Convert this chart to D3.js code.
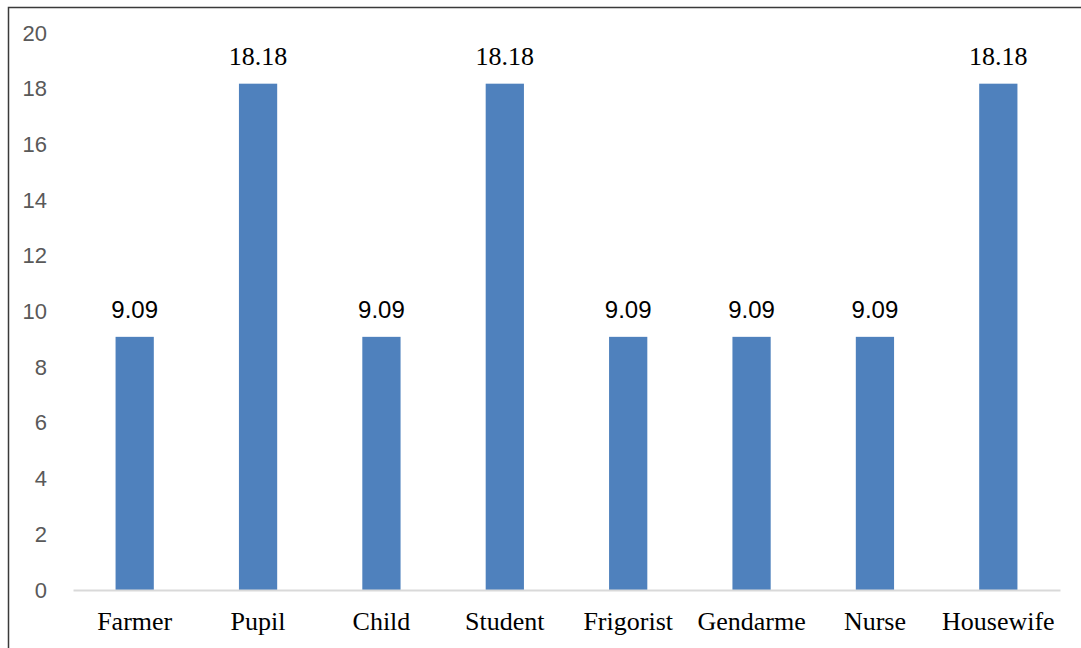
<!DOCTYPE html>
<meta charset='utf-8'>
<style>
	body { margin: 0; background: #fff; }
	#container { width: 1081px; height: 648px; }
</style>
<body>
	<div id='container'></div>
<script src='https://d3js.org/d3.v7.min.js'></script>
<script>
	const categories = ['Farmer', 'Pupil', 'Child', 'Student', 'Frigorist', 'Gendarme', 'Nurse', 'Housewife'];
	const values = [9.09, 18.18, 9.09, 18.18, 9.09, 9.09, 9.09, 18.18];
	const yTicks = [0, 2, 4, 6, 8, 10, 12, 14, 16, 18, 20];

	const W = 1081, H = 648;
	const margin = { top: 33, left: 73, right: 21, bottom: 58 };

	const svg = d3.select( '#container' )
		.append( 'svg' )
		.attr( 'width', W )
		.attr( 'height', H );

	// frame (cropped on the right and bottom)
	svg.append( 'path' )
		.attr( 'd', `M8.5,${H} V7.5 H${W}` )
		.attr( 'fill', 'none' )
		.attr( 'stroke', '#3a3a3a' )
		.attr( 'stroke-width', 1.5 );

	const x = d3.scaleBand()
		.domain( categories )
		.range( [margin.left, W - margin.right] )
		.paddingInner( 0.69 )
		.paddingOuter( 0.345 );

	const y = d3.scaleLinear()
		.domain( [0, 20] )
		.range( [H - margin.bottom, margin.top] );

	// y axis labels only
	const yAxis = d3.axisLeft( y ).tickValues( yTicks ).tickSize( 0 ).tickPadding( 0 );
	const yg = svg.append( 'g' )
		.attr( 'transform', 'translate(47,0)' )
		.call( yAxis );
	yg.select( '.domain' ).remove();
	yg.selectAll( 'text' )
		.attr( 'font-family', '"Liberation Sans", Arial, sans-serif' )
		.attr( 'font-size', 22 )
		.attr( 'fill', '#595959' );

	// bars
	svg.selectAll( 'rect.bar' )
		.data( values )
		.join( 'rect' )
		.attr( 'class', 'bar' )
		.attr( 'x', ( d, i ) => x( categories[i] ) )
		.attr( 'width', x.bandwidth() )
		.attr( 'y', d => y( d ) )
		.attr( 'height', d => y( 0 ) - y( d ) )
		.attr( 'fill', '#4f81bd' );

	// x axis
	const xAxis = d3.axisBottom( x ).tickSize( 0 ).tickPadding( 0 );
	const xg = svg.append( 'g' )
		.attr( 'transform', `translate(0,${y( 0 )})` )
		.call( xAxis );
	xg.select( '.domain' )
		.attr( 'stroke', '#d9d9d9' )
		.attr( 'stroke-width', 2 );
	xg.selectAll( 'text' )
		.attr( 'dy', null )
		.attr( 'y', 40 )
		.attr( 'font-family', '"Liberation Serif", "Times New Roman", serif' )
		.attr( 'font-size', 26 )
		.attr( 'fill', '#000' );

	// value labels
	svg.selectAll( 'text.val' )
		.data( values )
		.join( 'text' )
		.attr( 'class', 'val' )
		.attr( 'x', ( d, i ) => x( categories[i] ) + x.bandwidth() / 2 )
		.attr( 'y', d => y( d ) - 19 )
		.attr( 'text-anchor', 'middle' )
		.attr( 'font-family', d => d > 10 ? '"Liberation Serif", serif' : '"Liberation Sans", sans-serif' )
		.attr( 'font-size', d => d > 10 ? 26 : 24 )
		.attr( 'fill', '#000' )
		.text( d => d.toFixed( 2 ) );
</script>
</body>
